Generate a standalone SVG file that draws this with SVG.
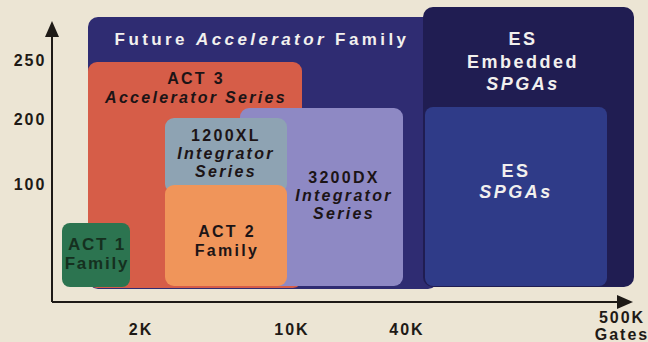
<svg xmlns="http://www.w3.org/2000/svg" width="648" height="342" viewBox="0 0 648 342">
<style>
text{font-family:"Liberation Sans",Arial,sans-serif;font-weight:bold;text-anchor:middle}
.ax{font-size:16px;fill:#1e1a16;letter-spacing:2px}
.w{fill:#f2f0ee;font-size:18px;letter-spacing:2.5px}
.d{fill:#1c1416;font-size:16px;letter-spacing:2.3px}
.i{font-style:italic}
.ln{stroke:#1e1a16;stroke-width:2;fill:none}
</style>
<rect width="648" height="342" fill="#ece5d4"/>
<g id="axes">
<path class="ln" d="M52,302 V30"/>
<path d="M52,21 L45,37 L59,37 z" fill="#1e1a16"/>
<path class="ln" d="M52,302 H620"/>
<path d="M633,302 L617,295 L617,309 z" fill="#1e1a16"/>
<text class="ax" x="30" y="66">250</text>
<text class="ax" x="30" y="125">200</text>
<text class="ax" x="30" y="190">100</text>
<text class="ax" x="141" y="335">2K</text>
<text class="ax" x="292" y="335">10K</text>
<text class="ax" x="407" y="335">40K</text>
<text class="ax" x="622" y="323" font-size="15">500K</text>
<text class="ax" x="622" y="340" font-size="13">Gates</text>
</g>
<g id="future">
<rect x="88" y="17" width="350" height="272" rx="10" fill="#2f2c72"/>
<text x="262" y="45" font-size="17" letter-spacing="3.4" fill="#f2f0ee">Future <tspan class="i">Accelerator</tspan> Family</text>
</g>
<g id="es-embedded">
<rect x="423" y="7" width="211" height="280" rx="10" fill="#201d52"/>
<text class="w" x="523" y="45">ES</text>
<text class="w" x="523" y="68">Embedded</text>
<text class="w i" x="523" y="90">SPGAs</text>
</g>
<g id="es-spgas">
<rect x="425" y="107" width="182" height="179" rx="8" fill="#2f3b88"/>
<text class="w" x="516" y="177" font-size="17" letter-spacing="3">ES</text>
<text class="w i" x="516" y="198" font-size="17" letter-spacing="3">SPGAs</text>
</g>
<g id="act3">
<rect x="88" y="62" width="214" height="226" rx="9" fill="#d65d48"/>
<text class="d" x="196" y="84">ACT 3</text>
<text class="d i" x="196" y="103" letter-spacing="2">Accelerator Series</text>
</g>
<g id="dx3200">
<rect x="240" y="108" width="163" height="178" rx="9" fill="#8e89c4"/>
<text class="d" x="344" y="183" fill="#1c1a3a">3200DX</text>
<text class="d i" x="344" y="201">Integrator</text>
<text class="d i" x="344" y="219">Series</text>
</g>
<g id="xl1200">
<rect x="165" y="118" width="122" height="75" rx="9" fill="#8ea3b3"/>
<text class="d" x="226" y="141">1200XL</text>
<text class="d i" x="226" y="159">Integrator</text>
<text class="d i" x="226" y="177">Series</text>
</g>
<g id="act2">
<rect x="165" y="185" width="122" height="101" rx="9" fill="#f0955a"/>
<text class="d" x="227" y="237">ACT 2</text>
<text class="d" x="227" y="256">Family</text>
</g>
<g id="act1">
<rect x="62" y="223" width="68" height="64" rx="8" fill="#2c7450"/>
<text x="97" y="250" font-size="17" letter-spacing="1.8" fill="#15301f">ACT 1</text>
<text x="97" y="269" font-size="17" letter-spacing="1.8" fill="#15301f">Family</text>
</g>
</svg>
